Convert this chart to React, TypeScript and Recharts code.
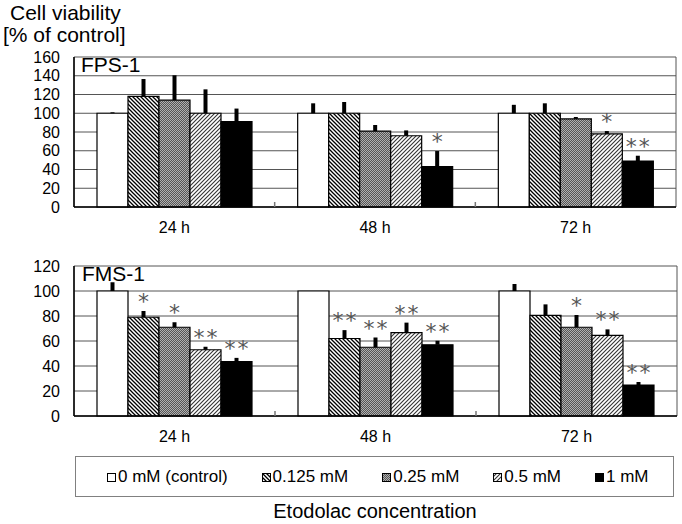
import React from 'react';
import { BarChart, Bar, XAxis, YAxis, CartesianGrid, ErrorBar, LabelList } from 'recharts';

const TIMES = ['24 h', '48 h', '72 h'];
const DOSES = ['0 mM (control)', '0.125 mM', '0.25 mM', '0.5 mM', '1 mM'];

// one row per dose, one value per time point (24 h, 48 h, 72 h)
const FPS_MEAN = [
  [100, 100, 100],
  [118, 100, 100],
  [114, 81, 94],
  [100, 76, 78],
  [91, 43, 49],
];
const FPS_SD = [
  [1, 10.6, 9],
  [18.5, 12, 10.6],
  [26.5, 6.5, 2],
  [25.5, 5.7, 3],
  [14, 16.7, 5.7],
];
const FPS_SIG = [
  ['', '', ''],
  ['', '', ''],
  ['', '', ''],
  ['', '', '*'],
  ['', '*', '**'],
];

const FMS_MEAN = [
  [100, 100, 100],
  [79, 62, 80.5],
  [71, 55, 71],
  [53, 66.7, 64.5],
  [43.5, 57, 24.8],
];
const FMS_SD = [
  [7, 0, 5.6],
  [5, 6.7, 8.8],
  [4, 7.8, 9.8],
  [2.4, 8, 4.8],
  [3, 3.2, 2.4],
];
const FMS_SIG = [
  ['', '', ''],
  ['*', '**', ''],
  ['*', '**', '*'],
  ['**', '**', '**'],
  ['**', '**', '**'],
];

const FPS_TICKS = [0, 20, 40, 60, 80, 100, 120, 140, 160];
const FMS_TICKS = [0, 20, 40, 60, 80, 100, 120];

const FILLS = ['#ffffff', 'url(#hatchBack)', 'url(#dots)', 'url(#hatchFwd)', '#000000'];
const FONT = '"Liberation Sans", Arial, sans-serif';

function buildRows(mean: number[][], sd: number[][], sig: string[][]) {
  return TIMES.map((time, ti) => {
    const row: any = { time };
    DOSES.forEach((_, di) => {
      row[`m${di}`] = mean[di][ti];
      row[`e${di}`] = [0, sd[di][ti]];
      row[`s${di}`] = sig[di][ti];
    });
    return row;
  });
}

const fpsRows = buildRows(FPS_MEAN, FPS_SD, FPS_SIG);
const fmsRows = buildRows(FMS_MEAN, FMS_SD, FMS_SIG);

const starLabel = (rows: any[], di: number) => (props: any) => {
  const { x, y, width, height, index } = props;
  const row = rows[index];
  if (!row || !row[`s${di}`]) return null;
  const perUnit = Number(height) / row[`m${di}`];
  const top = Number(y) - row[`e${di}`][1] * perUnit;
  return (
    <text
      x={Number(x) + Number(width) / 2 + 1}
      y={top - 2}
      textAnchor="middle"
      fontSize={22}
      fill="#555"
      opacity={0.99}
      fontFamily='"DejaVu Sans", sans-serif'
      letterSpacing={2}
    >
      {row[`s${di}`]}
    </text>
  );
};

const TimeTick = (props: any) => {
  const { x, y, payload, index } = props;
  const axisY = y - 15; // tickSize 6 + tickMargin 9
  const off = payload?.offset ?? 0;
  return (
    <g>
      {index > 0 && off > 0 && (
        <line x1={x - off} x2={x - off} y1={axisY} y2={axisY - 5} stroke="#777" strokeWidth={1.5} />
      )}
      <text x={x} y={y} dy="0.71em" textAnchor="middle" fontSize={16} fill="#000" fontFamily={FONT}>
        {payload.value}
      </text>
    </g>
  );
};

const edgeLines = ({ offset }: any) => [offset.left, offset.left + offset.width];

function Panel({ rows, ticks, height, margin, xHeight }: any) {
  return (
    <BarChart width={682} height={height} data={rows} margin={margin} barGap={0} barCategoryGap={23}>
      <CartesianGrid stroke="#555" verticalCoordinatesGenerator={edgeLines} />
      <XAxis
        dataKey="time"
        height={xHeight}
        tickLine={false}
        tickSize={6}
        tickMargin={9}
        axisLine={{ stroke: '#000', strokeWidth: 1.5 }}
        tick={<TimeTick />}
      />
      <YAxis
        width={60}
        domain={[ticks[0], ticks[ticks.length - 1]]}
        ticks={ticks}
        interval={0}
        tickLine={false}
        tickMargin={8}
        axisLine={{ stroke: '#000', strokeWidth: 1.5 }}
        tick={{ fontSize: 16, fill: '#000', fontFamily: FONT }}
      />
      {DOSES.map((d, di) => (
        <Bar key={d} dataKey={`m${di}`} name={d} fill={FILLS[di]} stroke="#000" strokeWidth={1.2} isAnimationActive={false}>
          <ErrorBar dataKey={`e${di}`} width={0} strokeWidth={4} stroke="#000" direction="y" />
          <LabelList dataKey={`s${di}`} content={starLabel(rows, di)} />
        </Bar>
      ))}
    </BarChart>
  );
}

export default function App() {
  return (
    <div style={{ position: 'absolute', left: 0, top: 0, width: 682, height: 524, background: '#fff', fontFamily: FONT }}>
      <svg width={0} height={0} style={{ position: 'absolute' }}>
        <defs>
          <pattern id="hatchBack" width={4} height={4} patternUnits="userSpaceOnUse">
            <rect width={4} height={4} fill="#fff" />
            <path d="M-1,-1 L5,5 M-1,3 L1,5 M3,-1 L5,1" stroke="#000" strokeWidth={1.3} />
          </pattern>
          <pattern id="hatchFwd" width={4} height={4} patternUnits="userSpaceOnUse">
            <rect width={4} height={4} fill="#fff" />
            <path d="M-1,5 L5,-1 M-1,1 L1,-1 M3,5 L5,3" stroke="#333" strokeWidth={1.1} />
          </pattern>
          <pattern id="dots" width={2} height={2} patternUnits="userSpaceOnUse">
            <rect width={2} height={2} fill="#555" />
            <rect x={0} y={0} width={1} height={1} fill="#b0b0b0" />
            <rect x={1} y={1} width={1} height={1} fill="#b0b0b0" />
          </pattern>
        </defs>
      </svg>

      <div style={{ position: 'absolute', left: 0, top: 0 }}>
        <Panel rows={fpsRows} ticks={FPS_TICKS} height={240} xHeight={33} margin={{ top: 57, right: 6, bottom: 0, left: 14 }} />
      </div>
      <div style={{ position: 'absolute', left: 0, top: 240 }}>
        <Panel rows={fmsRows} ticks={FMS_TICKS} height={215} xHeight={39} margin={{ top: 26, right: 5, bottom: 0, left: 14 }} />
      </div>

      <svg width={682} height={524} style={{ position: 'absolute', left: 0, top: 0, pointerEvents: 'none' }}>
        <text x={10} y={20} fontSize={21} fontFamily={FONT}>Cell viability</text>
        <text x={3} y={42} fontSize={21} fontFamily={FONT}>[% of control]</text>
        <text x={81} y={72} fontSize={21} fontFamily={FONT}>FPS-1</text>
        <text x={82} y={281} fontSize={21} fontFamily={FONT}>FMS-1</text>
        <text x={375} y={518} fontSize={20} textAnchor="middle" fontFamily={FONT}>Etodolac concentration</text>
      </svg>

      <div
        style={{
          position: 'absolute',
          left: 75,
          top: 456,
          width: 599,
          height: 41,
          boxSizing: 'border-box',
          border: '1px solid #808080',
          display: 'flex',
          alignItems: 'center',
          paddingLeft: 31,
          gap: 34,
          fontSize: 17,
          whiteSpace: 'nowrap',
        }}
      >
        {DOSES.map((d, di) => (
          <div key={d} style={{ display: 'flex', alignItems: 'center' }}>
            <svg width={9} height={9} style={{ marginRight: 2, marginTop: 2 }}>
              <rect x={0.5} y={0.5} width={8} height={8} fill={FILLS[di]} stroke="#000" />
            </svg>
            <span>{d}</span>
          </div>
        ))}
      </div>
    </div>
  );
}
